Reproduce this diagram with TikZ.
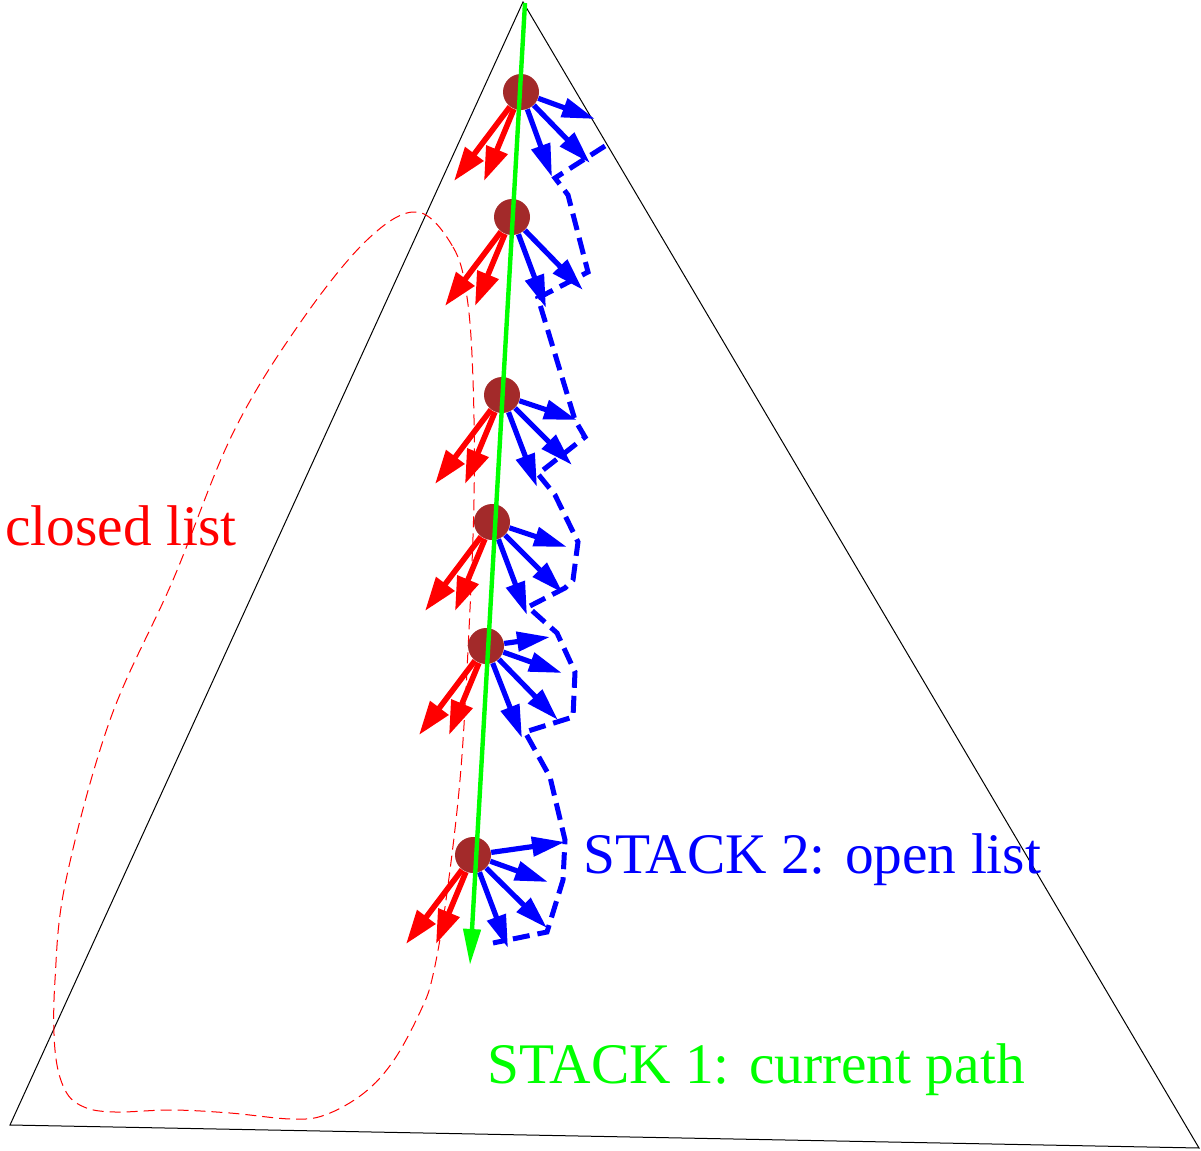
\documentclass[tikz,border=0pt]{standalone}
\usepackage{fontspec}
\setmainfont{Liberation Serif}
\usepackage{tikz}
\usetikzlibrary{calc,positioning,arrows.meta}
\definecolor{nodebrown}{RGB}{163,42,42}
\tikzset{
  state/.style={circle,fill=nodebrown,minimum size=18pt,inner sep=0pt},
  closedarrow/.style={-{Triangle[length=17pt,width=11pt]},draw=red,line width=2.8pt},
  openarrow/.style={-{Triangle[length=16.5pt,width=9.5pt]},draw=blue,line width=2.6pt},
  pathline/.style={-{Triangle[length=18pt,width=8.5pt]},draw=green,line width=2.2pt},
  frontier/.style={draw=blue,line width=2.5pt,dash pattern=on 8.5pt off 4pt},
  closedlist/.style={draw=red,line width=0.5pt,dash pattern=on 5.5pt off 3pt},
  biglabel/.style={anchor=base west,inner sep=0pt,font=\fontsize{28.7}{34}\selectfont}
}
\begin{document}
\begin{tikzpicture}[x=0.5pt,y=-0.5pt]
  \useasboundingbox (0,0) rectangle (1201,1151);

  % search space
  \coordinate (top) at (523,2);
  \coordinate (bl) at (10,1125);
  \coordinate (br) at (1199,1148);
  \draw[line width=0.5pt] (top) -- (bl) -- (br) -- cycle;

  % closed list
  \draw[closedlist] plot[smooth cycle,tension=0.6] coordinates {
    (417,212) (453,247) (467,297) (473,380) (474,500) (468,650) (460,780)
    (446,900) (433,975) (421,1010) (394,1060) (364,1093) (325,1115) (291,1119)
    (230,1113) (172,1110) (115,1112) (84,1107) (65,1090) (55,1050) (55,980)
    (66,880) (110,720) (173,580) (233,433) (300,323) (367,240)};

  % states on the current path
  \node [state] (n1) at (521,92) {};
  \node [state] (n2) at (512,217) {};
  \node [state] (n3) at (502,395) {};
  \node [state] (n4) at (492,522) {};
  \node [state] (n5) at (486,646) {};
  \node [state] (n6) at (473,855) {};

  % expanded children
  \foreach \i in {1,...,6}{
    \coordinate (c\i a) at ($(n\i)+(-67,89)$);
    \coordinate (c\i b) at ($(n\i)+(-37,89)$);
    \draw[closedarrow] (n\i) -- (c\i a);
    \draw[closedarrow] (n\i) -- (c\i b);
  }

  % open children
  \coordinate (o1a) at (595,119);
  \coordinate (o1b) at (590,163);
  \coordinate (o1c) at (552,177);
  \coordinate (o2a) at (583,290);
  \coordinate (o2b) at (546,308);
  \coordinate (o3a) at (577,420);
  \coordinate (o3b) at (572,465);
  \coordinate (o3c) at (537,487);
  \coordinate (o4a) at (567,547);
  \coordinate (o4b) at (563,593);
  \coordinate (o4c) at (527,615);
  \coordinate (o5a) at (550,637);
  \coordinate (o5b) at (562,673);
  \coordinate (o5c) at (558,720);
  \coordinate (o5d) at (522,738);
  \coordinate (o6a) at (565,842);
  \coordinate (o6b) at (548,882);
  \coordinate (o6c) at (547,928);
  \coordinate (o6d) at (508,948);
  \foreach \s/\t in {n1/o1a,n1/o1b,n1/o1c,n2/o2a,n2/o2b,n3/o3a,n3/o3b,n3/o3c,
                     n4/o4a,n4/o4b,n4/o4c,n5/o5a,n5/o5b,n5/o5c,n5/o5d,
                     n6/o6a,n6/o6b,n6/o6c,n6/o6d}
    \draw[openarrow] (\s) -- (\t);

  % open list border
  \draw[frontier] (605,146) -- (555,178) -- (568,195) -- (588,272) -- (538,298)
    -- (575,420) -- (585,437) -- (538,474) -- (555,495) -- (578,542) -- (573,580)
    -- (565,588) -- (528,607) -- (557,633) -- (575,672) -- (573,717) -- (525,732)
    -- (550,777) -- (565,840) -- (563,880) -- (547,932) -- (493,943);

  % current path
  \coordinate (root) at (525,3);
  \coordinate (leaf) at (470,965);
  \draw[pathline] (root) -- (leaf);

  \node [biglabel,text=red] (closedlbl) at (5,545) {closed list};
  \node [biglabel,text=blue] (openlbl) at (583,873) {STACK 2: open list};
  \node [biglabel,text=green] (pathlbl) at (487,1083) {STACK 1: current path};
\end{tikzpicture}
\end{document}
